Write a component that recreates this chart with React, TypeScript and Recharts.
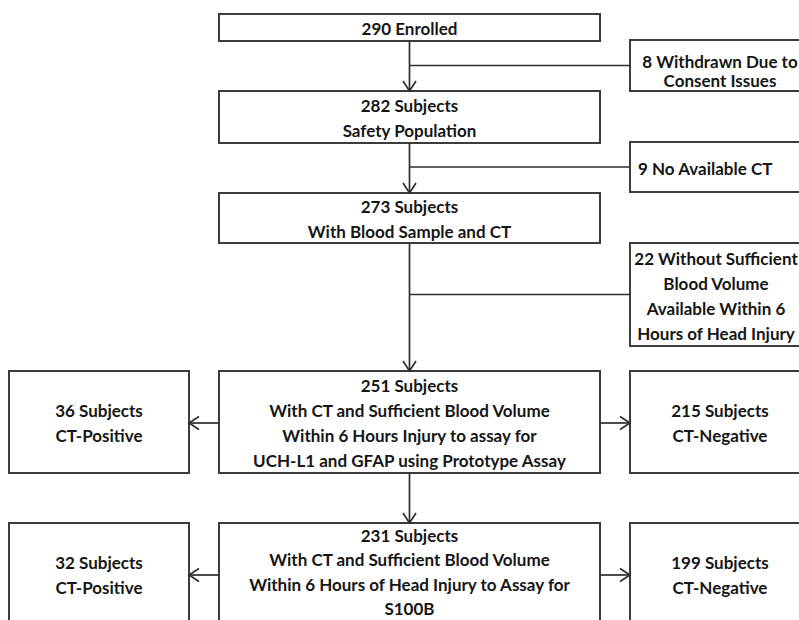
import { ReferenceArea, ReferenceLine, Scatter, ScatterChart, XAxis, YAxis } from "recharts";

// Flowchart content: box ids and their text lines
const boxIds = [
  "enrolled",
  "withdrawn",
  "safety",
  "noCT",
  "bloodCT",
  "insufficient",
  "main251",
  "pos36",
  "neg215",
  "main231",
  "pos32",
  "neg199",
];

const boxLines: string[][] = [
  ["290 Enrolled"],
  ["8 Withdrawn Due to", "Consent Issues"],
  ["282 Subjects", "Safety Population"],
  ["9 No Available CT"],
  ["273 Subjects", "With Blood Sample and CT"],
  ["22 Without Sufficient", "Blood Volume", "Available Within 6", "Hours of Head Injury"],
  [
    "251 Subjects",
    "With CT and Sufficient Blood Volume",
    "Within 6 Hours Injury to assay for",
    "UCH-L1 and GFAP using Prototype Assay",
  ],
  ["36 Subjects", "CT-Positive"],
  ["215 Subjects", "CT-Negative"],
  [
    "231 Subjects",
    "With CT and Sufficient Blood Volume",
    "Within 6 Hours of Head Injury to Assay for",
    "S100B",
  ],
  ["32 Subjects", "CT-Positive"],
  ["199 Subjects", "CT-Negative"],
];

// Box extents in chart units (x left→right, y top→bottom)
const boxX1 = [219, 630, 219, 630, 219, 630, 219, 9, 630, 219, 9, 630];
const boxX2 = [600, 810, 600, 810, 600, 810, 600, 189, 810, 600, 189, 810];
const boxY1 = [14, 40, 91, 142, 193, 243, 371, 371, 371, 523, 523, 523];
const boxY2 = [41, 91, 143, 192, 243, 346, 473, 473, 473, 625, 625, 625];

// Links between boxes
const downLinks = [
  ["enrolled", "safety"],
  ["safety", "bloodCT"],
  ["bloodCT", "main251"],
  ["main251", "main231"],
];
const exclusionLinks = [
  ["enrolled", "withdrawn"],
  ["safety", "noCT"],
  ["bloodCT", "insufficient"],
];
const sideLinks = [
  ["main251", "pos36"],
  ["main251", "neg215"],
  ["main231", "pos32"],
  ["main231", "neg199"],
];

const LINE = "#2e2e2e";
const BOX = "#3c3c3c";
const TEXT = "#161616";
const FONT = "Lato, 'Open Sans', sans-serif";

const box = (id: string) => {
  const i = boxIds.indexOf(id);
  return { x1: boxX1[i], x2: boxX2[i], y1: boxY1[i], y2: boxY2[i], lines: boxLines[i], id };
};

// text anchor points
const textPoints = boxIds.flatMap((id) => {
  const b = box(id);
  const gap = id === "withdrawn" ? 19.5 : id === "main231" ? 24.5 : 25;
  const shift = id === "withdrawn" ? 5.5 : id === "main231" ? -2 : 1;
  const cy = (b.y1 + b.y2) / 2 + shift;
  const left = id === "noCT";
  const cx = left ? b.x1 + 8 : id === "insufficient" ? 716 : (b.x1 + b.x2) / 2;
  return b.lines.map((t, k) => ({
    x: cx,
    y: cy + (k - (b.lines.length - 1) / 2) * gap,
    text: t,
    anchor: left ? "start" : "middle",
  }));
});

const arrowShape = (dir: "down" | "left" | "right" | null) => (p: any) => {
  const { x1, y1, x2, y2 } = p;
  let head = "";
  if (dir === "down") head = `M${x2 - 6.5},${y2 - 10} L${x2},${y2} L${x2 + 6.5},${y2 - 10}`;
  if (dir === "left") head = `M${x2 + 10},${y2 - 6.5} L${x2},${y2} L${x2 + 10},${y2 + 6.5}`;
  if (dir === "right") head = `M${x2 - 10},${y2 - 6.5} L${x2},${y2} L${x2 - 10},${y2 + 6.5}`;
  return (
    <g>
      <line x1={x1} y1={y1} x2={x2} y2={y2} stroke={LINE} strokeWidth={1.7} />
      {head && <path d={head} fill="none" stroke={LINE} strokeWidth={1.7} />}
    </g>
  );
};

const renderText = (p: any) => (
  <text
    x={p.cx}
    y={p.cy}
    textAnchor={p.payload.anchor}
    dominantBaseline="central"
    fontFamily={FONT}
    fontWeight={700}
    fontSize={17}
    fill={TEXT}
  >
    {p.payload.text}
  </text>
);

export default function App() {
  return (
    <div style={{ position: "absolute", left: 0, top: 0, background: "#fff" }}>
      <ScatterChart width={799} height={620} margin={{ top: 0, right: 0, bottom: 0, left: 0 }}>
        <XAxis type="number" dataKey="x" domain={[0, 799]} hide allowDataOverflow />
        <YAxis type="number" dataKey="y" domain={[0, 620]} reversed hide allowDataOverflow />
        {downLinks.map(([a, b]) => {
          const A = box(a);
          const B = box(b);
          const x = (A.x1 + A.x2) / 2;
          return (
            <ReferenceLine
              key={a + b}
              ifOverflow="visible"
              segment={[
                { x, y: A.y2 },
                { x, y: B.y1 },
              ]}
              shape={arrowShape("down")}
            />
          );
        })}
        {exclusionLinks.map(([a, b]) => {
          const A = box(a);
          const B = box(b);
          const x = (A.x1 + A.x2) / 2;
          const y = (B.y1 + B.y2) / 2;
          return (
            <ReferenceLine
              key={a + b}
              ifOverflow="visible"
              segment={[
                { x, y },
                { x: B.x1, y },
              ]}
              shape={arrowShape(null)}
            />
          );
        })}
        {sideLinks.map(([a, b]) => {
          const A = box(a);
          const B = box(b);
          const y = (A.y1 + A.y2) / 2 + 1;
          const toLeft = B.x2 < A.x1;
          return (
            <ReferenceLine
              key={a + b}
              ifOverflow="visible"
              segment={[
                { x: toLeft ? A.x1 : A.x2, y },
                { x: toLeft ? B.x2 : B.x1, y },
              ]}
              shape={arrowShape(toLeft ? "left" : "right")}
            />
          );
        })}
        {boxIds.map((id) => {
          const b = box(id);
          return (
            <ReferenceArea
              key={id}
              x1={b.x1}
              x2={b.x2}
              y1={b.y1}
              y2={b.y2}
              ifOverflow="visible"
              fill="#fff"
              fillOpacity={1}
              stroke={BOX}
              strokeWidth={2}
            />
          );
        })}
        <Scatter data={textPoints} isAnimationActive={false} shape={renderText} />
      </ScatterChart>
    </div>
  );
}
